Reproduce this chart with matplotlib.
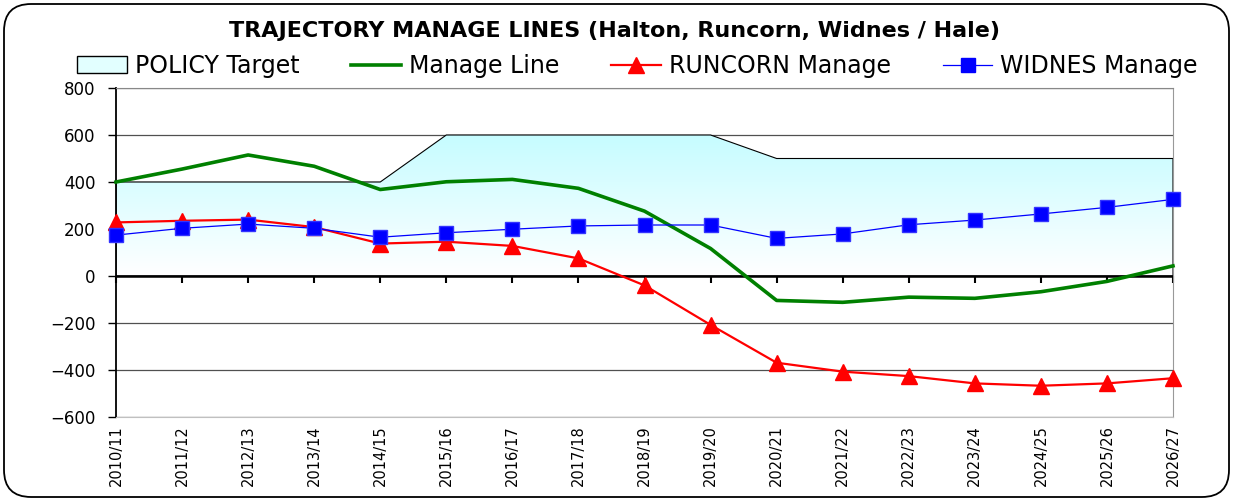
import numpy as np
import matplotlib
matplotlib.use('Agg')
import matplotlib.pyplot as plt
from matplotlib.colors import LinearSegmentedColormap
from matplotlib.patches import Patch, FancyBboxPatch
from matplotlib.lines import Line2D

plt.rcParams['font.family'] = ['DejaVu Sans']

years = ['2010/11', '2011/12', '2012/13', '2013/14', '2014/15', '2015/16', '2016/17',
         '2017/18', '2018/19', '2019/20', '2020/21', '2021/22', '2022/23', '2023/24',
         '2024/25', '2025/26', '2026/27']
policy_target = [400, 400, 400, 400, 400, 600, 600, 600, 600, 600,
                 500, 500, 500, 500, 500, 500, 500]
manage_line = [400, 455, 515, 467, 368, 401, 411, 373, 276, 117,
               -104, -112, -90, -95, -67, -23, 43]
runcorn = [228, 235, 240, 208, 138, 146, 128, 75, -40, -208,
           -369, -407, -426, -457, -467, -457, -435]
widnes = [174, 203, 221, 203, 165, 184, 199, 213, 217, 217,
          160, 179, 218, 238, 264, 292, 326]

x = np.arange(len(years))

fig = plt.figure(figsize=(12.33, 5.01), dpi=100)
ax = fig.add_axes([116/1233, 1-417/501, (1173-116)/1233, (417-88)/501])

# outer rounded frame
frame = FancyBboxPatch((4/1233, 4/501), 1225/1233, 493/501,
                       boxstyle='round,pad=0,rounding_size=0.022',
                       transform=fig.transFigure, facecolor='none',
                       edgecolor='black', lw=1.3, mutation_aspect=1233/501)
fig.patches.append(frame)

ax.set_yticks(np.arange(-600, 801, 200))
ax.grid(axis='y', color='#505050', lw=0.9, zorder=0)
ax.set_axisbelow(True)

# policy target area with gradient
area = ax.fill_between(x, 0, policy_target, facecolor='none',
                       edgecolor='black', lw=0.8, zorder=2)
cmap = LinearSegmentedColormap.from_list('cy', ['#ffffff', '#c6fcff'])
grad = np.linspace(0, 1, 256).reshape(-1, 1)
im = ax.imshow(grad, cmap=cmap, aspect='auto', origin='lower',
               extent=[0, len(years) - 1, 0, max(policy_target)], zorder=1)
im.set_clip_path(area.get_paths()[0], transform=ax.transData)
ax.set_xlim(0, len(years) - 1)
ax.set_ylim(-600, 800)

ax.axhline(0, color='black', lw=1.8, zorder=3)

ax.plot(x, manage_line, color='#008000', lw=2.6, zorder=4, clip_on=False)
ax.plot(x, runcorn, color='#ff0000', lw=1.6, marker='^', ms=11,
        mec='#ff0000', zorder=5, clip_on=False)
ax.plot(x, widnes, color='#0000ff', lw=0.9, marker='s', ms=10,
        mec='#3333ff', zorder=6, clip_on=False)

ax.set_xticks(x)
ax.set_xticklabels(years, rotation=90, fontsize=10.5)
ax.tick_params(axis='x', length=0, pad=6)
ax.tick_params(axis='y', length=5.5, width=1, labelsize=12, pad=9)

zero_ax = ax.secondary_xaxis(600/1400)
zero_ax.set_xticks(x)
zero_ax.set_xticklabels([])
zero_ax.tick_params(direction='out', length=5, width=1.5)
zero_ax.spines['bottom'].set_visible(False)

ax.spines['left'].set_color('black')
ax.spines['left'].set_linewidth(1.3)
ax.spines['top'].set_color('#888888')
ax.spines['right'].set_color('#999999')
ax.spines['bottom'].set_color('#c0c0c0')

fig.text(0.498, 1 - 31/501, 'TRAJECTORY MANAGE LINES (Halton, Runcorn, Widnes / Hale)',
         ha='center', va='center', fontsize=16, fontweight='bold')

handles = [Patch(facecolor='#e2ffff', edgecolor='black', lw=1),
           Line2D([], [], color='#008000', lw=2.6),
           Line2D([], [], color='#ff0000', lw=1.6, marker='^', ms=11),
           Line2D([], [], color='#0000ff', lw=0.9, marker='s', ms=10)]
labels = ['POLICY Target', 'Manage Line', 'RUNCORN Manage', 'WIDNES Manage']
fig.legend(handles, labels, loc='center', bbox_to_anchor=(0.517, 1 - 66/501),
           ncol=4, frameon=False, fontsize=17, handlelength=2.1,
           columnspacing=2.2, handletextpad=0.34)

fig.savefig('out.png', dpi=100)
